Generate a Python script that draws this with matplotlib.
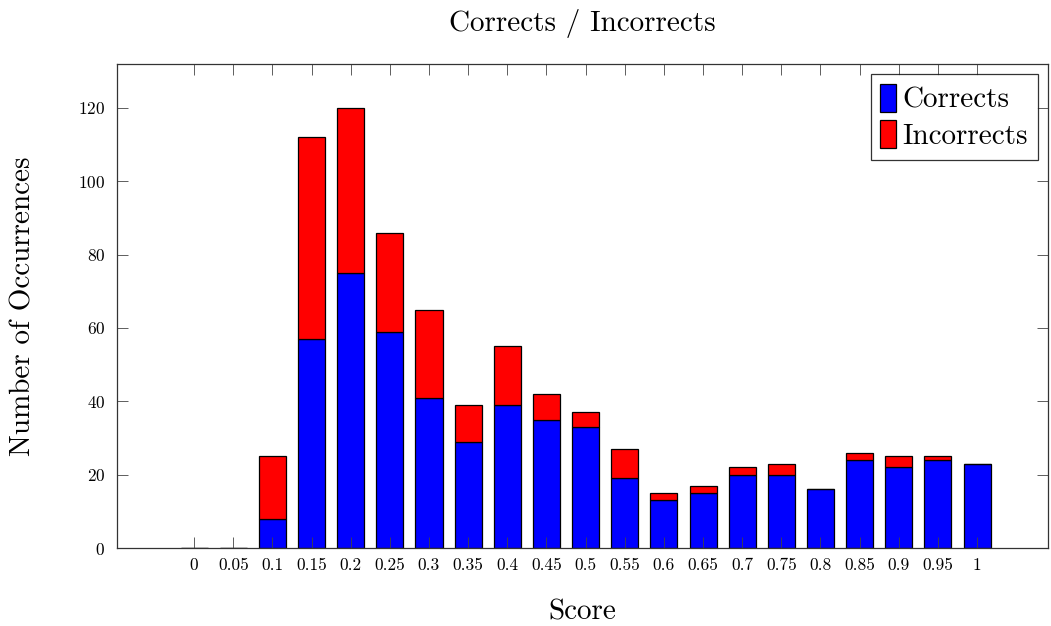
import matplotlib
matplotlib.use("Agg")
import matplotlib.pyplot as plt
import numpy as np

plt.rcParams['font.family'] = ['cmr10', 'DejaVu Serif']
plt.rcParams['axes.formatter.use_mathtext'] = True

scores = ["0", "0.05", "0.1", "0.15", "0.2", "0.25", "0.3", "0.35", "0.4", "0.45", "0.5",
          "0.55", "0.6", "0.65", "0.7", "0.75", "0.8", "0.85", "0.9", "0.95", "1"]
corrects = [0, 0, 8, 57, 75, 59, 41, 29, 39, 35, 33, 19, 13, 15, 20, 20, 16, 24, 22, 24, 23]
incorrects = [0, 0, 17, 55, 45, 27, 24, 10, 16, 7, 4, 8, 2, 2, 2, 3, 0, 2, 3, 1, 0]

fig = plt.figure(figsize=(10.51, 6.26), dpi=100)
ax = fig.add_axes([0.1113, 0.1246, 0.9971 - 0.1113, 0.8978 - 0.1246])

x = np.arange(len(scores))
w = 0.69
ax.bar(x, corrects, w, color='#0000ff', edgecolor='black', linewidth=0.9, label='Corrects')
ax.bar(x, incorrects, w, bottom=corrects, color='#ff0000', edgecolor='black', linewidth=0.9,
       label='Incorrects')

ax.set_xlim(-1.97, 21.81)
ax.set_ylim(0, 132)
ax.set_xticks(x)
ax.set_xticklabels(scores)
ax.set_yticks(np.arange(0, 121, 20))
ax.tick_params(direction='in', length=8, width=0.6, color='#444444', labelsize=12.5,
               top=True, right=True)
ax.tick_params(axis='x', pad=7)
ax.tick_params(axis='y', pad=8.5)
for s in ax.spines.values():
    s.set_linewidth(0.9)
    s.set_color('#333333')

ax.set_title('Corrects / Incorrects', fontsize=21, pad=24)
ax.set_xlabel('Score', fontsize=21, labelpad=19)
ax.set_ylabel('Number of Occurrences', fontsize=21, labelpad=30)

leg = ax.legend(loc='upper right', fontsize=21, frameon=True, fancybox=False,
                edgecolor='black', handlelength=0.55, handleheight=1.1, handletextpad=0.22,
                borderpad=0.33, labelspacing=0.22, borderaxespad=0.35)
leg.get_frame().set_linewidth(0.9)

fig.savefig('out.png', dpi=100)
